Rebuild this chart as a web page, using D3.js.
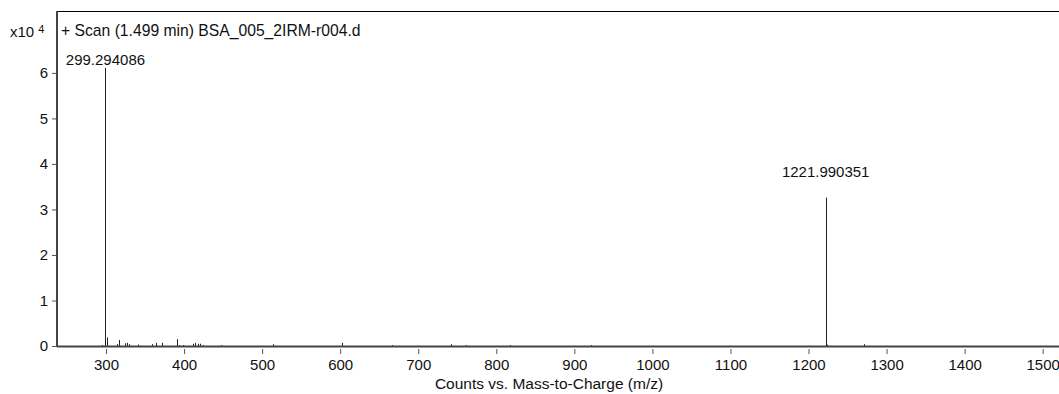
<!DOCTYPE html>
<html>
<head>
<meta charset="utf-8">
<script src="https://cdn.jsdelivr.net/npm/d3@7"></script>
<style>
  body { margin: 0; background: #fff; }
  svg { display: block; font-family: "Liberation Sans", Arial, sans-serif; }
</style>
</head>
<body>
<svg id="chart" width="1059" height="394"></svg>
<script>
// spectrum: m/z and counts (x10^4)
var mz     = [295.2, 299.294086, 301.6, 313.7, 317.0, 324.3, 327.3, 329.8, 341.3, 358.5, 363.6, 371.3,
              391.3, 393.8, 398.2, 411.8, 414.0, 417.4, 420.4, 424.6, 446.9, 514.3, 602.0, 666.8,
              741.6, 761.0, 817.5, 921.3, 1221.990351, 1223.0, 1224.2, 1271.4];
var counts = [0.02, 6.11, 0.19, 0.04, 0.13, 0.06, 0.07, 0.04, 0.03, 0.04, 0.07, 0.07,
              0.15, 0.02, 0.02, 0.05, 0.07, 0.05, 0.05, 0.02, 0.02, 0.04, 0.07, 0.02,
              0.04, 0.02, 0.02, 0.02, 3.26, 0.72, 0.03, 0.04];
var labelled = [299.294086, 1221.990351];
var xTicks = [300, 400, 500, 600, 700, 800, 900, 1000, 1100, 1200, 1300, 1400, 1500];
var yTicks = [0, 1, 2, 3, 4, 5, 6];
var title = "+ Scan (1.499 min) BSA_005_2IRM-r004.d";
var xTitle = "Counts vs. Mass-to-Charge (m/z)";

var svg = d3.select("#chart");
var pLeft = 57, pRight = 1059, pTop = 11, pBottom = 346;
var fs = 15;

var x = d3.scaleLinear().domain([237.2, 1520.9]).range([pLeft, pRight]);
var y = d3.scaleLinear().domain([0, 7.36]).range([pBottom, pTop]);

// frame top line
svg.append("line")
    .attr("x1", pLeft).attr("x2", pRight).attr("y1", pTop + 0.5).attr("y2", pTop + 0.5)
    .attr("stroke", "#000").attr("stroke-width", 1);

// peaks
svg.append("g").selectAll("line").data(mz).enter()
    .append("line")
    .attr("x1", function (d) { return Math.round(x(d)) + 0.5 })
    .attr("x2", function (d) { return Math.round(x(d)) + 0.5 })
    .attr("y1", pBottom)
    .attr("y2", function (d, i) { return y(counts[i]) })
    .attr("stroke", "#222").attr("stroke-width", 1);

// peak labels (kept below the scan title)
svg.append("g").selectAll("text").data(labelled).enter()
    .append("text")
    .attr("x", function (d) { return x(d) })
    .attr("y", function (d) { return Math.max(y(counts[mz.indexOf(d)]) - 21, 65) })
    .attr("text-anchor", "middle")
    .attr("font-size", fs).attr("fill", "#111")
    .text(function (d) { return d.toFixed(6) });

// y axis
var yAxis = svg.append("g").attr("transform", `translate(${pLeft},0)`)
    .call(d3.axisLeft(y).tickValues(yTicks).tickSize(5).tickPadding(4).tickSizeOuter(0));
yAxis.select(".domain").remove();
yAxis.selectAll("line").attr("stroke", "#555");
yAxis.selectAll("text").attr("font-size", fs).attr("fill", "#111")
    .attr("font-family", "Liberation Sans, Arial, sans-serif");
svg.append("line")
    .attr("x1", pLeft).attr("x2", pLeft).attr("y1", pTop).attr("y2", pBottom + 1)
    .attr("stroke", "#444").attr("stroke-width", 2);

// x axis
var xAxis = svg.append("g").attr("transform", `translate(0,${pBottom + 3})`)
    .call(d3.axisBottom(x).tickValues(xTicks).tickFormat(d3.format("d")).tickSize(5).tickPadding(5));
xAxis.select(".domain").remove();
xAxis.selectAll("line").attr("stroke", "#555");
xAxis.selectAll("text").attr("font-size", fs).attr("fill", "#111")
    .attr("font-family", "Liberation Sans, Arial, sans-serif");
svg.append("line")
    .attr("x1", pLeft).attr("x2", pRight).attr("y1", pBottom + 0.5).attr("y2", pBottom + 0.5)
    .attr("stroke", "#444").attr("stroke-width", 2);

// texts
svg.append("text").attr("x", 61).attr("y", 36).attr("font-size", 15.7).attr("fill", "#111").text(title);
var mult = svg.append("text").attr("x", 10).attr("y", 37).attr("font-size", fs).attr("fill", "#111");
mult.append("tspan").text("x10 ");
mult.append("tspan").attr("dy", -4).attr("font-size", 11).text("4");
svg.append("text").attr("x", 549).attr("y", 389).attr("text-anchor", "middle")
    .attr("font-size", 15.5).attr("fill", "#111").text(xTitle);
</script>
</body>
</html>
